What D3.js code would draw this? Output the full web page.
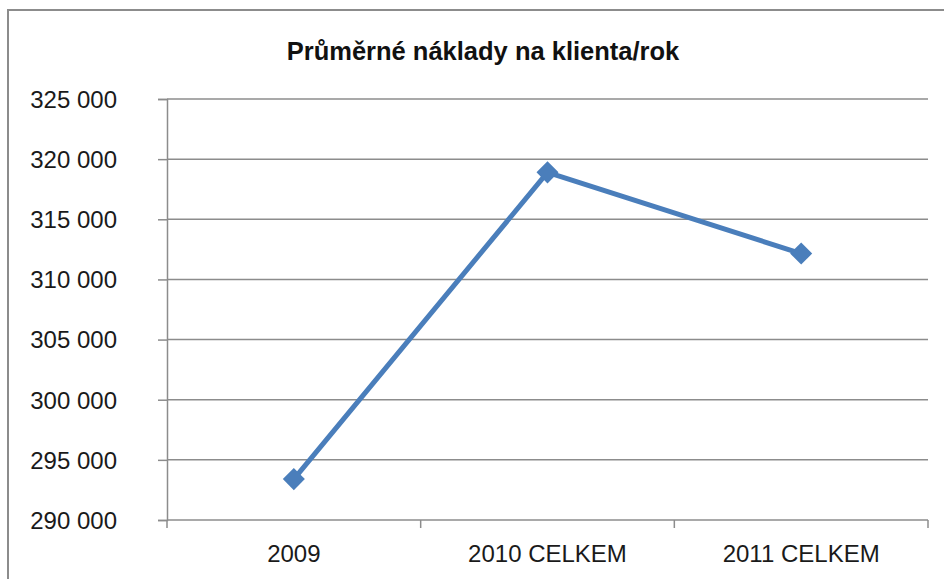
<!DOCTYPE html>
<html lang="cs">

<head>
    <meta charset="UTF-8">
    <title>Průměrné náklady na klienta/rok</title>
    <style>
        body { margin: 0; background: #fff; }
        svg { display: block; font-family: "Liberation Sans", Arial, sans-serif; }
        .axis path, .axis line { fill: none; stroke: #8c8c8c; stroke-width: 1.5; }
        .axis text { fill: #1a1a1a; font-size: 24px; }
        .grid line { stroke: #8c8c8c; stroke-width: 1.5; }
    </style>
</head>

<body>
    <div id="graph"></div>

    <script src="https://cdnjs.cloudflare.com/ajax/libs/d3/7.8.5/d3.min.js"></script>
    <script>
        var title = "Průměrné náklady na klienta/rok";
        var categories = ["2009", "2010 CELKEM", "2011 CELKEM"];
        var values = [293400, 318900, 312150];
        var yTicks = [290000, 295000, 300000, 305000, 310000, 315000, 320000, 325000];

        var W = 944, H = 579;
        var margin = { top: 99, right: 16, bottom: 59, left: 167 },
            width = W - margin.left - margin.right,
            height = H - margin.top - margin.bottom;

        var root = d3.select("#graph").append("svg")
            .attr("width", W)
            .attr("height", H);

        // chart frame, runs off the right and bottom edges
        root.append("rect")
            .attr("x", 8).attr("y", 10)
            .attr("width", 1200).attr("height", 1200)
            .attr("fill", "none")
            .attr("stroke", "#8c8c8c")
            .attr("stroke-width", 2);

        root.append("text")
            .attr("x", 483).attr("y", 60)
            .attr("text-anchor", "middle")
            .attr("font-size", "25.5px")
            .attr("font-weight", "bold")
            .attr("fill", "#111")
            .text(title);

        var svg = root.append("g")
            .attr("transform", "translate(" + margin.left + "," + margin.top + ")");

        var x = d3.scaleBand().domain(categories).range([0, width]);
        var y = d3.scaleLinear().domain([290000, 325000]).range([height, 0]);

        var fmt = d => d3.format(",")(d).replace(/,/g, " ");

        svg.append("g")
            .attr("class", "grid")
            .selectAll("line")
            .data(yTicks.slice(1))
            .enter().append("line")
            .attr("x1", 0).attr("x2", width)
            .attr("y1", d => y(d)).attr("y2", d => y(d));

        var yAxis = svg.append("g")
            .attr("class", "y axis")
            .call(d3.axisLeft(y).tickValues(yTicks).tickFormat(fmt).tickSizeOuter(0).tickSize(9).tickPadding(41));
        yAxis.selectAll("text").attr("dy", "0.35em");

        // x axis: ticks at category boundaries
        var xg = svg.append("g")
            .attr("class", "x axis")
            .attr("transform", "translate(0," + height + ")");
        xg.append("line").attr("x1", 0).attr("x2", width);
        xg.selectAll(".bound")
            .data(d3.range(categories.length + 1))
            .enter().append("line")
            .attr("class", "bound")
            .attr("x1", i => i * x.bandwidth()).attr("x2", i => i * x.bandwidth())
            .attr("y1", 0).attr("y2", 8);
        xg.selectAll(".lbl")
            .data(categories)
            .enter().append("text")
            .attr("class", "lbl")
            .attr("x", d => x(d) + x.bandwidth() / 2)
            .attr("y", 42)
            .attr("text-anchor", "middle")
            .text(d => d);

        var data = categories.map((c, i) => ({ cat: c, value: values[i] }));

        var line = d3.line()
            .x(d => x(d.cat) + x.bandwidth() / 2)
            .y(d => y(d.value));

        svg.append("path")
            .datum(data)
            .attr("fill", "none")
            .attr("stroke", "#4a7ebb")
            .attr("stroke-width", 5)
            .attr("stroke-linejoin", "round")
            .attr("d", line);

        svg.selectAll(".marker")
            .data(data)
            .enter().append("path")
            .attr("class", "marker")
            .attr("d", d3.symbol().type(d3.symbolDiamond2).size(310))
            .attr("fill", "#4a7ebb")
            .attr("transform", d => "translate(" + (x(d.cat) + x.bandwidth() / 2) + "," + y(d.value) + ")");
    </script>
</body>

</html>
